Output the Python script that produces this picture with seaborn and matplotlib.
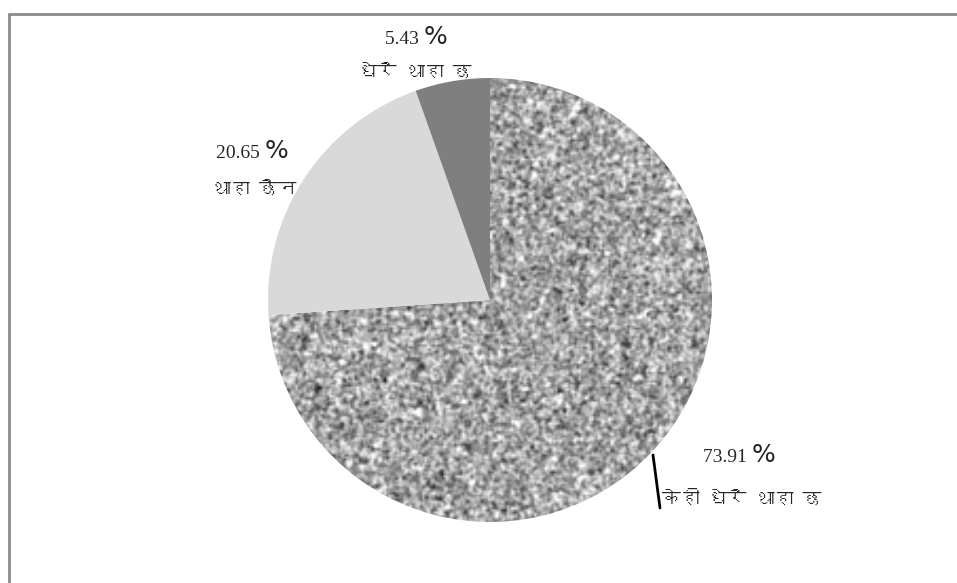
import numpy as np
import matplotlib
matplotlib.use("Agg")
import matplotlib.pyplot as plt
import seaborn as sns
from matplotlib import font_manager as fm
from matplotlib.ft2font import FT2Font
from matplotlib.lines import Line2D

# Data
answers = ["केही धेरै थाहा छ", "थाहा छैन", "धेरै थाहा छ"]
shares = [73.91, 20.65, 5.43]
share_labels = ["73.91", "20.65", "5.43"]


def find_devanagari_font():
    # look for any installed font that actually has Devanagari glyphs
    for f in fm.fontManager.ttflist:
        try:
            if FT2Font(f.fname).get_char_index(ord("क")) != 0:
                return f.name
        except Exception:
            continue
    return "DejaVu Sans"


sns.set_theme(style="white")
deva_font = find_devanagari_font()
plt.rcParams['font.family'] = [deva_font, 'DejaVu Sans']

fig = plt.figure(figsize=(9.57, 5.83), dpi=100)
fig.patch.set_facecolor("white")

# pie centre ~ (490, 300) px, radius ~ 222 px
W, H = 957, 583
cx, cy, r = 490, 300, 222
ax = fig.add_axes([(cx - r) / W, (H - cy - r) / H, 2 * r / W, 2 * r / H])

colors = ["none", "#d9d9d9", "#7f7f7f"]
wedges, _ = ax.pie(shares, colors=colors, startangle=90, counterclock=False,
                   radius=1, wedgeprops=dict(linewidth=0))
# pie() resets the limits to +-1.25, put them back
ax.set_xlim(-1, 1)
ax.set_ylim(-1, 1)
ax.set_aspect("equal")
ax.axis("off")

# grainy texture for the big slice
rng = np.random.default_rng(7)
noise = rng.normal(0, 1, (210, 210))
k = np.array([0.2, 0.6, 0.2])
noise = np.apply_along_axis(lambda v: np.convolve(v, k, mode="same"), 0, noise)
noise = np.apply_along_axis(lambda v: np.convolve(v, k, mode="same"), 1, noise)
noise = 0.65 + 0.14 * noise / noise.std()
img = ax.imshow(noise, cmap="gray", vmin=0, vmax=1, extent=[-1, 1, -1, 1],
                interpolation="bilinear", zorder=0.5)
img.set_clip_path(wedges[0])
ax.set_xlim(-1, 1)
ax.set_ylim(-1, 1)


def to_data(px, py):
    return (px - cx) / r, (cy - py) / r


# where the number ends and the "%" starts, and where each answer text sits
label_pos = [(752, 462), (265, 158), (424, 44)]
name_pos = [(742, 498), (254, 189), (415, 72)]

for name, lab, (px, py), (nx, ny) in zip(answers, share_labels, label_pos, name_pos):
    x, y = to_data(px, py)
    ax.text(x, y, lab + " ", ha="right", va="baseline",
            fontsize=14, family=["Liberation Serif"], clip_on=False)
    ax.text(x, y, "%", ha="left", va="baseline", fontsize=18,
            family=["DejaVu Sans"], clip_on=False)
    x2, y2 = to_data(nx, ny)
    ax.text(x2, y2, name, ha="center", va="center", fontsize=13.5, clip_on=False)

# leader line for the big slice
lx0, ly0 = to_data(653, 455)
lx1, ly1 = to_data(660, 508)
ax.plot([lx0, lx1], [ly0, ly1], color="black", linewidth=2, clip_on=False)

# grey frame (only top and left edges are visible)
fig.add_artist(Line2D([9 / W, 1], [1 - 14 / H, 1 - 14 / H], color="#8c8c8c", linewidth=2))
fig.add_artist(Line2D([9 / W, 9 / W], [0, 1 - 14 / H], color="#8c8c8c", linewidth=2))

fig.savefig("out.png", dpi=100, facecolor="white")
